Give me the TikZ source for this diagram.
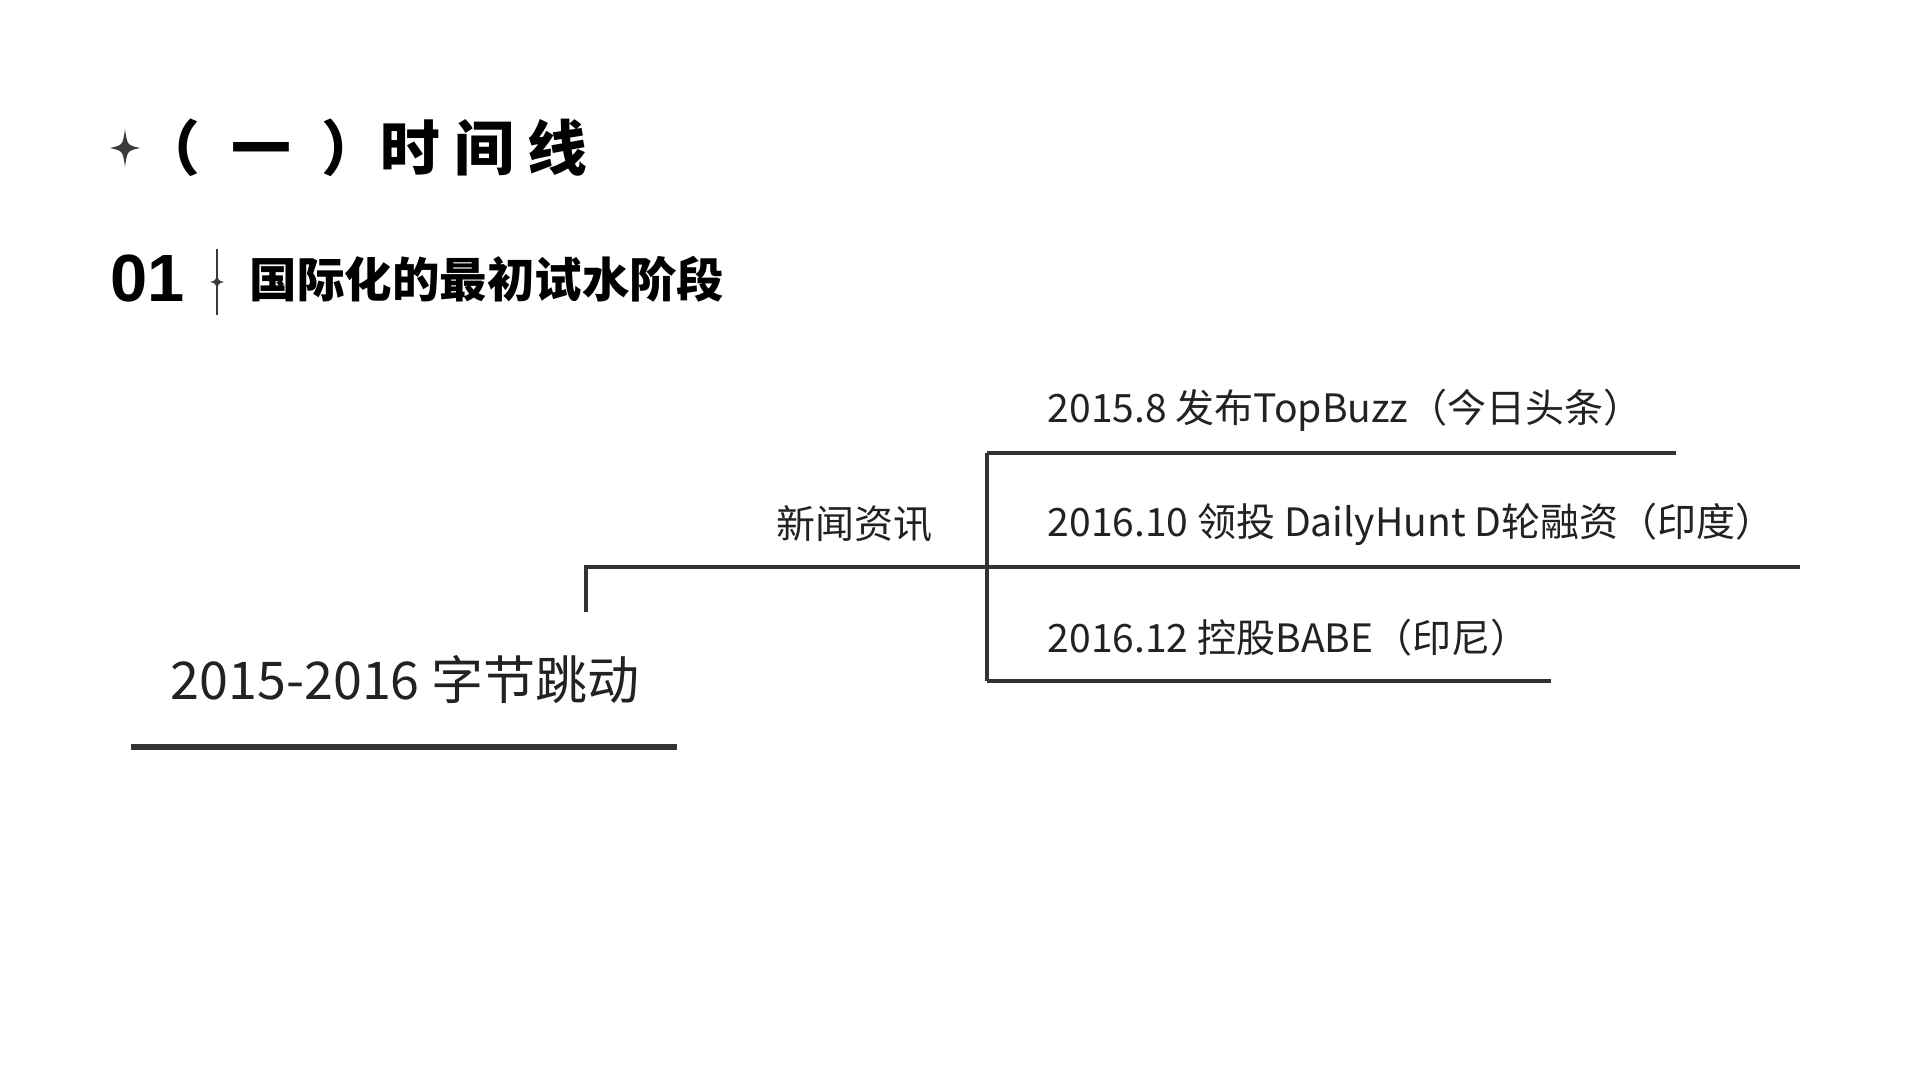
\documentclass[tikz,border=0pt]{standalone}
\usepackage{fontspec}
\setmainfont{Noto Sans CJK SC}
\newfontfamily\numfont{Liberation Sans}
\definecolor{textcol}{HTML}{222222}
\definecolor{linecol}{HTML}{333333}
\definecolor{starcol}{HTML}{3A3A3A}
\begin{document}
\begin{tikzpicture}[x=0.01cm, y=-0.01cm,
    sparkle/.pic={\fill[starcol] (0,-1) .. controls (0.15,-0.15) .. (1,0) .. controls (0.15,0.15) .. (0,1) .. controls (-0.15,0.15) .. (-1,0) .. controls (-0.15,-0.15) .. cycle;},
    event/.style={anchor=west, inner sep=0pt, text=textcol, font=\fontsize{11.1}{13}\selectfont},
    branch/.style={draw=linecol, line width=0.95pt}]
  \useasboundingbox[fill=white] (0,0) rectangle (1920,1080);
  % Заголовок
  \pic[xscale=15, yscale=19] at (125,148) {sparkle};
  \node[anchor=west, inner sep=0pt, font=\bfseries\fontsize{17}{20}\selectfont] (title) at (140,148) {（\hspace{5pt} 一 \hspace{4.5pt}）时 间 线};
  % Подзаголовок
  \node[anchor=west, inner sep=0pt, font=\numfont\bfseries\fontsize{19}{22}\selectfont] (num) at (110,279) {01};
  \draw[starcol, line width=0.5pt] (217,249) -- (217,315);
  \pic[xscale=7, yscale=10] at (217,282) {sparkle};
  \node[anchor=west, inner sep=0pt, font=\bfseries\fontsize{13.5}{16}\selectfont] (sub) at (249,279) {国际化的最初试水阶段};
  % Корень
  \node[anchor=west, inner sep=0pt, text=textcol, font=\fontsize{14.8}{17}\selectfont] (root) at (170,680) {2015-2016 字节跳动};
  \draw[linecol, line width=1.8pt] (131,747) -- (677,747);
  \coordinate (stem) at (586,612);
  \coordinate (fork) at (987,567);
  \draw[branch] (stem) |- (fork);
  \node[event, anchor=east] (news) at (933,524) {新闻资讯};
  % Ветви
  \foreach \n/\y/\e/\t in {1/453/1676/{2015.8 发布TopBuzz（今日头条）},
                           2/567/1800/{2016.10 领投 DailyHunt D轮融资（印度）},
                           3/681/1551/{2016.12 控股BABE（印尼）}} {
    \node[event] (ev\n) at (1047,\y-43) {\t};
    \coordinate (end\n) at (\e,\y);
    \draw[branch] (fork|-end\n) -- (end\n);
  }
  \draw[branch] (fork|-end1) -- (fork|-end3);
\end{tikzpicture}
\end{document}
